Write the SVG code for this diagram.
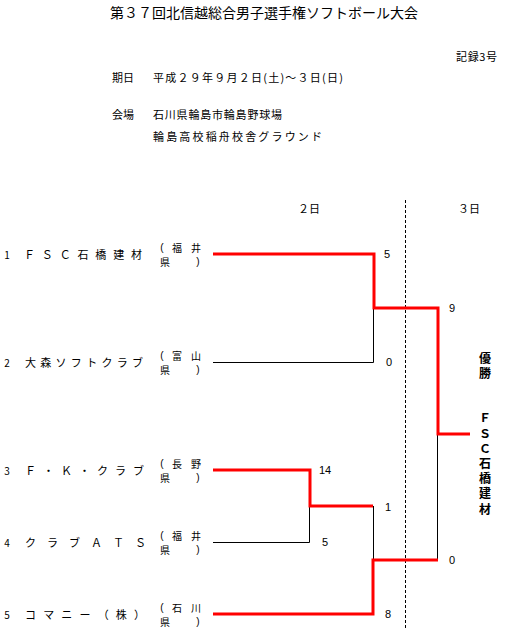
<svg xmlns="http://www.w3.org/2000/svg" width="531" height="630" viewBox="0 0 531 630">
<style>
text{font-family:"Noto Sans CJK JP","Liberation Sans",sans-serif;fill:#000;dominant-baseline:central}
.t{font-size:14px}
.s{font-size:11px}
.n{font-size:10px;text-anchor:middle}
.c{font-size:11px;text-anchor:middle}
.p{font-size:10px;text-anchor:middle}
.q{font-family:"Liberation Sans",sans-serif;font-size:10px;text-anchor:middle}
.sc{font-family:"Liberation Sans",sans-serif;font-size:11px;text-anchor:middle}
.v{font-size:12px;font-weight:bold;writing-mode:vertical-rl;text-orientation:upright}
.r{stroke:#f00;stroke-width:3;fill:none}
.k{stroke:#000;stroke-width:1;fill:none}
</style>
<rect width="531" height="630" fill="#fff"/>
<text class="t" x="110" y="12" textLength="308" lengthAdjust="spacing">第３７回北信越総合男子選手権ソフトボール大会</text>
<text class="s" x="456" y="56" textLength="41" lengthAdjust="spacing">記録3号</text>
<text class="s" x="112" y="77">期日</text>
<text class="s" x="153" y="77" textLength="190" lengthAdjust="spacing">平成２９年９月２日(土)～３日(日)</text>
<text class="s" x="112" y="114">会場</text>
<text class="s" x="153" y="114" textLength="129" lengthAdjust="spacing">石川県輪島市輪島野球場</text>
<text class="s" x="153" y="136" textLength="169" lengthAdjust="spacing">輪島高校稲舟校舎グラウンド</text>
<text class="c" x="309" y="208">２日</text>
<text class="c" x="469" y="208">３日</text>
<line x1="405.5" y1="200" x2="405.5" y2="630" stroke="#000" stroke-width="1" stroke-dasharray="3,2"/>
<g id="team1">
<text class="n" x="7" y="254">1</text>
<text class="s" x="24" y="254" textLength="118" lengthAdjust="spacing">ＦＳＣ石橋建材</text>
<text class="q" x="162" y="247">(</text><text class="p" x="177" y="247">福</text><text class="p" x="196" y="247">井</text>
<text class="p" x="165" y="261">県</text><text class="q" x="198" y="261">)</text>
</g>
<g id="team2">
<text class="n" x="7" y="362">2</text>
<text class="s" x="25" y="362" textLength="118" lengthAdjust="spacing">大森ソフトクラブ</text>
<text class="q" x="162" y="355">(</text><text class="p" x="177" y="355">富</text><text class="p" x="196" y="355">山</text>
<text class="p" x="165" y="369">県</text><text class="q" x="198" y="369">)</text>
</g>
<g id="team3">
<text class="n" x="7" y="470">3</text>
<text class="s" x="25" y="470" textLength="119" lengthAdjust="spacing">Ｆ・Ｋ・クラブ</text>
<text class="q" x="162" y="463">(</text><text class="p" x="177" y="463">長</text><text class="p" x="196" y="463">野</text>
<text class="p" x="165" y="477">県</text><text class="q" x="198" y="477">)</text>
</g>
<g id="team4">
<text class="n" x="7" y="542">4</text>
<text class="s" x="25" y="542" textLength="121" lengthAdjust="spacing">クラブＡＴＳ</text>
<text class="q" x="162" y="535">(</text><text class="p" x="177" y="535">福</text><text class="p" x="196" y="535">井</text>
<text class="p" x="165" y="549">県</text><text class="q" x="198" y="549">)</text>
</g>
<g id="team5">
<text class="n" x="7" y="614">5</text>
<text class="s" x="25" y="614" textLength="120" lengthAdjust="spacing">コマニー（株）</text>
<text class="q" x="162" y="607">(</text><text class="p" x="177" y="607">石</text><text class="p" x="196" y="607">川</text>
<text class="p" x="165" y="621">県</text><text class="q" x="198" y="621">)</text>
</g>
<g id="winner">
<text class="v" x="485" y="352" letter-spacing="3">優勝</text>
<text class="v" x="485" y="412" letter-spacing="3.17">ＦＳＣ石橋建材</text>
</g>
<g id="connectors">
<polyline class="k" points="213,362.5 373.5,362.5 373.5,308"/>
<polyline class="k" points="213,542.5 309.5,542.5 309.5,506"/>
<line class="k" x1="373.5" y1="506" x2="373.5" y2="560"/>
<line class="k" x1="437.5" y1="434" x2="437.5" y2="560"/>
<polyline class="r" points="213,254 374,254 374,308 438,308 438,434 470,434"/>
<polyline class="r" points="213,470 310,470 310,506 373,506"/>
<polyline class="r" points="213,614 373,614 373,560 438,560"/>
</g>
<g id="scores">
<text class="sc" x="387" y="254">5</text>
<text class="sc" x="389" y="362">0</text>
<text class="sc" x="452" y="308">9</text>
<text class="sc" x="325" y="470">14</text>
<text class="sc" x="388" y="507">1</text>
<text class="sc" x="325" y="542">5</text>
<text class="sc" x="452" y="560">0</text>
<text class="sc" x="388" y="614">8</text>
</g>
</svg>
